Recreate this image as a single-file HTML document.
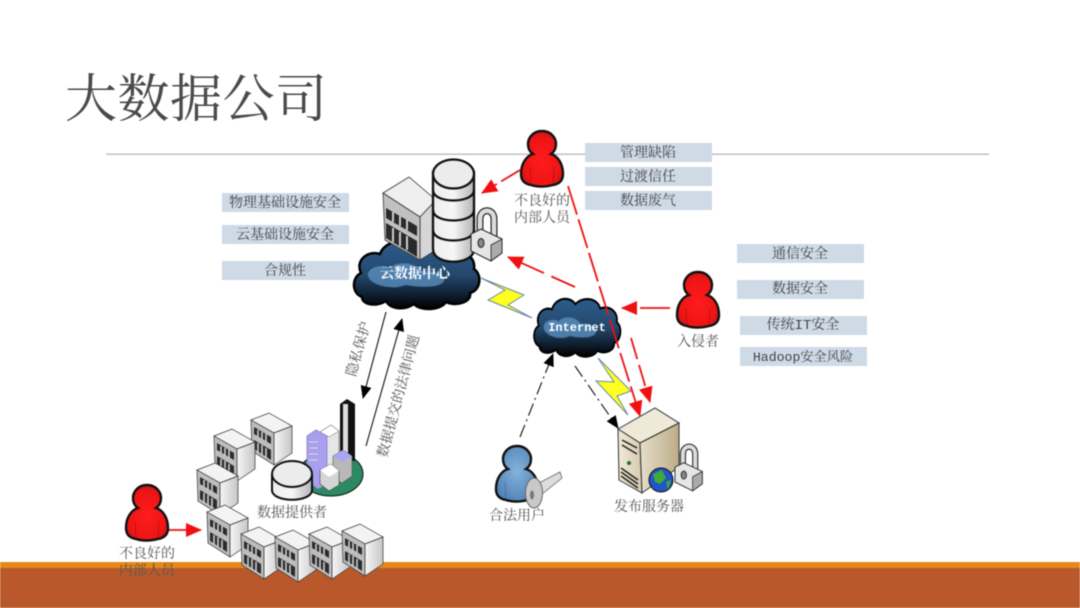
<!DOCTYPE html>
<html><head><meta charset="utf-8"><style>
html,body{margin:0;padding:0;background:#fff}
svg{display:block;filter:blur(.4px)}
text{font-family:"Liberation Serif","Noto Serif CJK SC",serif;fill:#555}
.l{font-size:14px;text-anchor:middle}
.b{fill:#cfdae7}
.t{fill:#444;font-size:14px;text-anchor:middle}
.m{font-family:"Liberation Mono","Noto Serif CJK SC",monospace}
</style></head><body>
<svg width="1080" height="608" viewBox="0 0 1080 608" xmlns="http://www.w3.org/2000/svg">
<defs>
<radialGradient id="rg" cx=".5" cy=".55" r=".55"><stop offset="0" stop-color="#ff1c1c"/><stop offset=".8" stop-color="#ee1515"/><stop offset="1" stop-color="#c81818"/></radialGradient>
<radialGradient id="bg" cx=".5" cy=".45" r=".6"><stop offset="0" stop-color="#86b3dc"/><stop offset="1" stop-color="#4f81b5"/></radialGradient>
<linearGradient id="cl" x1="0" y1="0" x2="0" y2="1"><stop offset="0" stop-color="#2c5c8c"/><stop offset=".5" stop-color="#24486c"/><stop offset=".85" stop-color="#0a1622"/><stop offset="1" stop-color="#000"/></linearGradient>
<linearGradient id="cy" x1="0" y1="0" x2="1" y2="0"><stop offset="0" stop-color="#ededed"/><stop offset=".5" stop-color="#f6f6f6"/><stop offset="1" stop-color="#b4b4b4"/></linearGradient>
<linearGradient id="sv" x1="0" y1="0" x2="1" y2="0"><stop offset="0" stop-color="#f0ead8"/><stop offset="1" stop-color="#d5cab0"/></linearGradient>
<linearGradient id="sv2" x1="0" y1="0" x2="1" y2="0"><stop offset="0" stop-color="#e6dec8"/><stop offset="1" stop-color="#bcac88"/></linearGradient>
<linearGradient id="bf" x1="0" y1="0" x2="1" y2="0"><stop offset="0" stop-color="#f6f6f6"/><stop offset="1" stop-color="#c6c6c6"/></linearGradient>
<g id="bd">
<path d="M0 7 18 0 41 13 23 20Z" fill="#f3f3f3" stroke="#333" stroke-width=".7"/>
<path d="M0 7 23 20V52L1 38Z" fill="#bdbdbd" stroke="#333" stroke-width=".7"/>
<path d="M23 20 41 13V40L23 52Z" fill="url(#bf)" stroke="#333" stroke-width=".7"/>
<path d="M3 14 20 24V31L3 21ZM3 27 20 37V47L3 36Z" fill="#2b2b2b"/>
<path d="M7 17V24M11 19V27M15 21V29M7 30V40M11 32V42M15 35V45" stroke="#ccc" stroke-width="1.600"/>
</g>
<g id="pn">
<path d="M21 0C30 0 35 7 35 13C35 18 33 21 30 23C37 25 42 33 42 43C42 50 38 53 32 54C24 56 16 56 10 54C4 53 0 50 0 43C0 33 5 25 12 23C9 21 7 18 7 13C7 7 12 0 21 0Z" stroke="#111" stroke-width="2.400"/>
<path d="M9 36 10 53M33 36 32 53" stroke="#0003" stroke-width="1" fill="none"/>
</g>
<g id="lk">
<path d="M9 24V9C9 -2 23 -2 23 9V26" fill="none" stroke="#222" stroke-width="7"/>
<path d="M9 24V9C9 -2 23 -2 23 9V26" fill="none" stroke="#dcdcdc" stroke-width="4.600"/>
<path d="M0 24 10 19 31 29V43L20 51 0 41Z" fill="#e6e6e6" stroke="#222" stroke-width="1"/>
<path d="M20 35 31 29V43L20 51Z" fill="#aaa" stroke="#222" stroke-width=".8"/>
<ellipse cx="10" cy="33" rx="3" ry="4.500" fill="#888" stroke="#222"/>
</g>
<g id="cd">
<path d="M8 62C-3 58-2 42 7 38C1 26 13 15 26 19C31 5 52 3 60 13C70 4 92 5 96 18C110 14 122 22 120 34C129 40 126 56 116 58C118 67 102 72 92 67C86 76 66 76 60 69C50 76 36 74 32 66C22 72 8 70 8 62Z" fill="url(#cl)" stroke="#000" stroke-width="2.500"/>
<path d="M14 38C18 30 30 30 36 33C44 25 62 28 68 36C78 34 92 38 90 46C86 54 62 52 52 50C38 56 12 50 14 38Z" fill="#5d93c4" opacity=".75"/>
</g>
<marker id="rh2" markerWidth="16" markerHeight="14" refX="15" refY="7" orient="auto" markerUnits="userSpaceOnUse"><path d="M0 0 16 7 0 14Z" fill="#f01010"/></marker>
<marker id="kh" markerWidth="13" markerHeight="11" refX="12" refY="5.500" orient="auto" markerUnits="userSpaceOnUse"><path d="M0 0 13 5.500 0 11Z" fill="#000"/></marker>
</defs>

<rect width="1080" height="608" fill="#fff"/>
<text x="65" y="117" style="font-family:'Noto Serif CJK SC',serif;font-size:52px;letter-spacing:.5px;fill:#4a4a4a;font-weight:400">大数据公司</text>
<rect x="106" y="153.500" width="883" height="1.400" fill="#bcbcbc"/>
<rect y="562" width="1080" height="6" fill="#e4891a"/>
<rect y="568" width="1080" height="40" fill="#b9592b"/>

<!-- label boxes -->
<rect class="b" x="585" y="143" width="127" height="19"/>
<rect class="b" x="585" y="167" width="127" height="19"/>
<rect class="b" x="585" y="191" width="127" height="19"/>
<rect class="b" x="222" y="193" width="127" height="19"/>
<rect class="b" x="222" y="225" width="127" height="19"/>
<rect class="b" x="222" y="261" width="127" height="19"/>
<rect class="b" x="737" y="244" width="127" height="19"/>
<rect class="b" x="737" y="280" width="127" height="19"/>
<rect class="b" x="740" y="316" width="127" height="19"/>
<rect class="b" x="740" y="347" width="127" height="19"/>
<text class="t" x="648" y="157">管理缺陷</text>
<text class="t" x="648" y="181">过渡信任</text>
<text class="t" x="648" y="205">数据废气</text>
<text class="t" x="285" y="207">物理基础设施安全</text>
<text class="t" x="285" y="239">云基础设施安全</text>
<text class="t" x="285" y="275">合规性</text>
<text class="t" x="800" y="258">通信安全</text>
<text class="t" x="800" y="293">数据安全</text>
<text class="t m" x="803" y="329">传统IT安全</text>
<text class="t m" x="803" y="361" style="font-size:13.200px">Hadoop安全风险</text>

<!-- data center -->
<use href="#cd" transform="translate(354,235)"/>
<g stroke="#333" stroke-width=".8">
<path d="M383 193 409 177 436 200 420 217Z" fill="#efefef"/>
<path d="M420 217 436 200V250L420 260Z" fill="#d5d5d5"/>
<path d="M383 193 420 217V260L385 240Z" fill="#c0c0c0"/>
<path d="M386 208 417 226V236L386 218ZM386 223 417 241V257L386 238Z" fill="#2a2a2a" stroke="none"/>
<path d="M393 212V222M400 216V226M407 220V230M393 228V242M400 232V246M407 236V250" stroke="#ccc" stroke-width="2"/>
</g>
<g stroke="#111" stroke-width="2.300" fill="url(#cy)">
<path d="M433 172V249C433 266 474 266 474 249V172Z"/>
<ellipse cx="453.500" cy="174" rx="20.500" ry="14.500" fill="#ececec"/>
<path d="M433 190C433 204 474 204 474 190M433 210C433 224 474 224 474 210M433 230C433 244 474 244 474 230" fill="none"/>
</g>
<use href="#lk" transform="translate(471,210)"/>
<text x="415" y="278" style="fill:#fff;font-size:14px;text-anchor:middle;font-weight:700">云数据中心</text>

<!-- internet cloud -->
<use href="#cd" transform="translate(534,293) scale(.69,.86)"/>
<text x="577" y="331" style="fill:#fff;font-size:12px;text-anchor:middle;font-weight:700;font-family:'Liberation Mono',monospace">Internet</text>

<!-- bolts -->
<path d="M481 278 524 295 508 305 532 318 488 300 505 290Z" fill="#ffff20" stroke="#6a88a8" stroke-width="1"/>
<path d="M598 358 631 391 617 396 628 415 596 381 614 382Z" fill="#ffff20" stroke="#6a88a8" stroke-width="1"/>

<!-- dashed red -->
<g fill="none" stroke="#f01010" stroke-width="1.800">
<line x1="520" y1="170" x2="482" y2="193" stroke-dasharray="22 5" marker-end="url(#rh2)"/>
<line x1="575" y1="287" x2="508" y2="257" stroke-dasharray="26 8" marker-end="url(#rh2)"/>
<line x1="670" y1="308" x2="622" y2="308" stroke-dasharray="30 6" marker-end="url(#rh2)"/>
<line x1="568" y1="186" x2="640" y2="416" stroke-dasharray="30 5" marker-end="url(#rh2)"/>
<line x1="631" y1="338" x2="650" y2="402" stroke-dasharray="22 6" marker-end="url(#rh2)"/>
<line x1="168" y1="530" x2="201" y2="530" marker-end="url(#rh2)"/>
</g>

<!-- black arrows -->
<g fill="none" stroke="#111" stroke-width="1.100">
<line x1="386" y1="312" x2="363" y2="398" marker-end="url(#kh)"/>
<line x1="366" y1="446" x2="402" y2="319" marker-end="url(#kh)"/>
<line x1="520" y1="437" x2="553" y2="354" stroke-dasharray="13 4 2 4" marker-end="url(#kh)"/>
<line x1="575" y1="366" x2="618" y2="428" stroke-dasharray="13 4 2 4" marker-end="url(#kh)"/>
</g>

<!-- persons -->
<use href="#pn" fill="url(#rg)" transform="translate(521,131)"/>
<use href="#pn" fill="url(#rg)" transform="translate(677,272)"/>
<use href="#pn" fill="url(#rg)" transform="translate(126,485)"/>
<use href="#pn" fill="url(#bg)" transform="translate(496,446)"/>

<!-- key -->
<path d="M537 484 560 472 562 478 541 495Z" fill="#ddd" stroke="#666" stroke-width=".8"/>
<ellipse cx="534" cy="493" rx="8.500" ry="15" fill="#c8c8c8" stroke="#666"/>
<ellipse cx="532" cy="495" rx="2" ry="4.500" fill="#777"/>

<!-- server -->
<g stroke="#333">
<path d="M618 429 655 408 679 423 640 443Z" fill="#efe9da"/>
<path d="M618 429 640 443 642 493 619 480Z" fill="url(#sv)"/>
<path d="M640 443 679 423V467L642 493Z" fill="url(#sv2)"/>
<path d="M622 440 637 448M622 445 637 454M621 468 638 480M621 472 638 484M621 476 638 488" stroke="#222" stroke-width="1.500" fill="none"/>
<circle cx="629" cy="463" r="2" fill="#2a6a3a" stroke="none"/>
</g>
<circle cx="661" cy="480" r="12" fill="#2255c8" stroke="#111"/>
<path d="M653 474 662 470 666 478 660 484 655 482ZM666 482 671 480 668 490Z" fill="#3fa93a"/>
<use href="#lk" transform="translate(675,446) scale(.88)"/>

<!-- provider buildings -->
<use href="#bd" transform="translate(251,413)"/>
<use href="#bd" transform="translate(214,429)"/>
<use href="#bd" transform="translate(197,463)"/>

<!-- city -->
<ellipse cx="331" cy="474" rx="32" ry="22" fill="#2b8a62" stroke="#111"/>
<path d="M340 404 347 399 355 404V461H340Z" fill="#111"/>
<path d="M343 404H348V455H343Z" fill="#ddd"/>
<path d="M320 432 331 425 339 431V470L328 476H320Z" fill="#e6e6e6" stroke="#666" stroke-width=".7"/>
<path d="M320 432 331 425 339 431 329 437Z" fill="#fff" stroke="#666" stroke-width=".5"/>
<path d="M307 436 316 430 327 436V484L318 489 307 480Z" fill="#a8a0ee" stroke="#8880cc" stroke-width=".8"/>
<path d="M309 442H318M309 448H318M309 454H318M309 460H318" stroke="#ddd" stroke-width="1"/>
<path d="M333 456 343 450 352 456V476L342 483 333 478Z" fill="#b8b8b8" stroke="#555" stroke-width=".6"/>
<path d="M333 456 343 450 352 456 342 462Z" fill="#a9a5f5"/>
<path d="M320 470 331 464 339 471V485L329 491 320 484Z" fill="#d5d5d5" stroke="#444" stroke-width=".6"/>
<path d="M320 470 331 464 339 471 329 477Z" fill="#fff"/>
<path d="M272 475V490C272 503 312 503 312 490V475Z" fill="url(#cy)" stroke="#111" stroke-width="2"/>
<ellipse cx="292" cy="474" rx="20" ry="13" fill="#ececec" stroke="#111" stroke-width="2"/>

<use href="#bd" transform="translate(207,505)"/>
<use href="#bd" transform="translate(241,527)"/>
<use href="#bd" transform="translate(275,530)"/>
<use href="#bd" transform="translate(309,527)"/>
<use href="#bd" transform="translate(342,524)"/>

<!-- node labels -->
<text class="l" x="542" y="205">不良好的</text>
<text class="l" x="542" y="222">内部人员</text>
<text class="l" x="698" y="346">入侵者</text>
<text class="l" x="517" y="520">合法用户</text>
<text class="l" x="649" y="511">发布服务器</text>
<text class="l" x="292" y="517">数据提供者</text>
<text class="l" x="147" y="558">不良好的</text>
<text class="l" x="147" y="575">内部人员</text>
<text class="l" transform="translate(358,349) rotate(-74)" dy="5">隐私保护</text>
<text class="l" transform="translate(398,396) rotate(-75)" dy="5">数据提交的法律问题</text>
</svg>
</body></html>
